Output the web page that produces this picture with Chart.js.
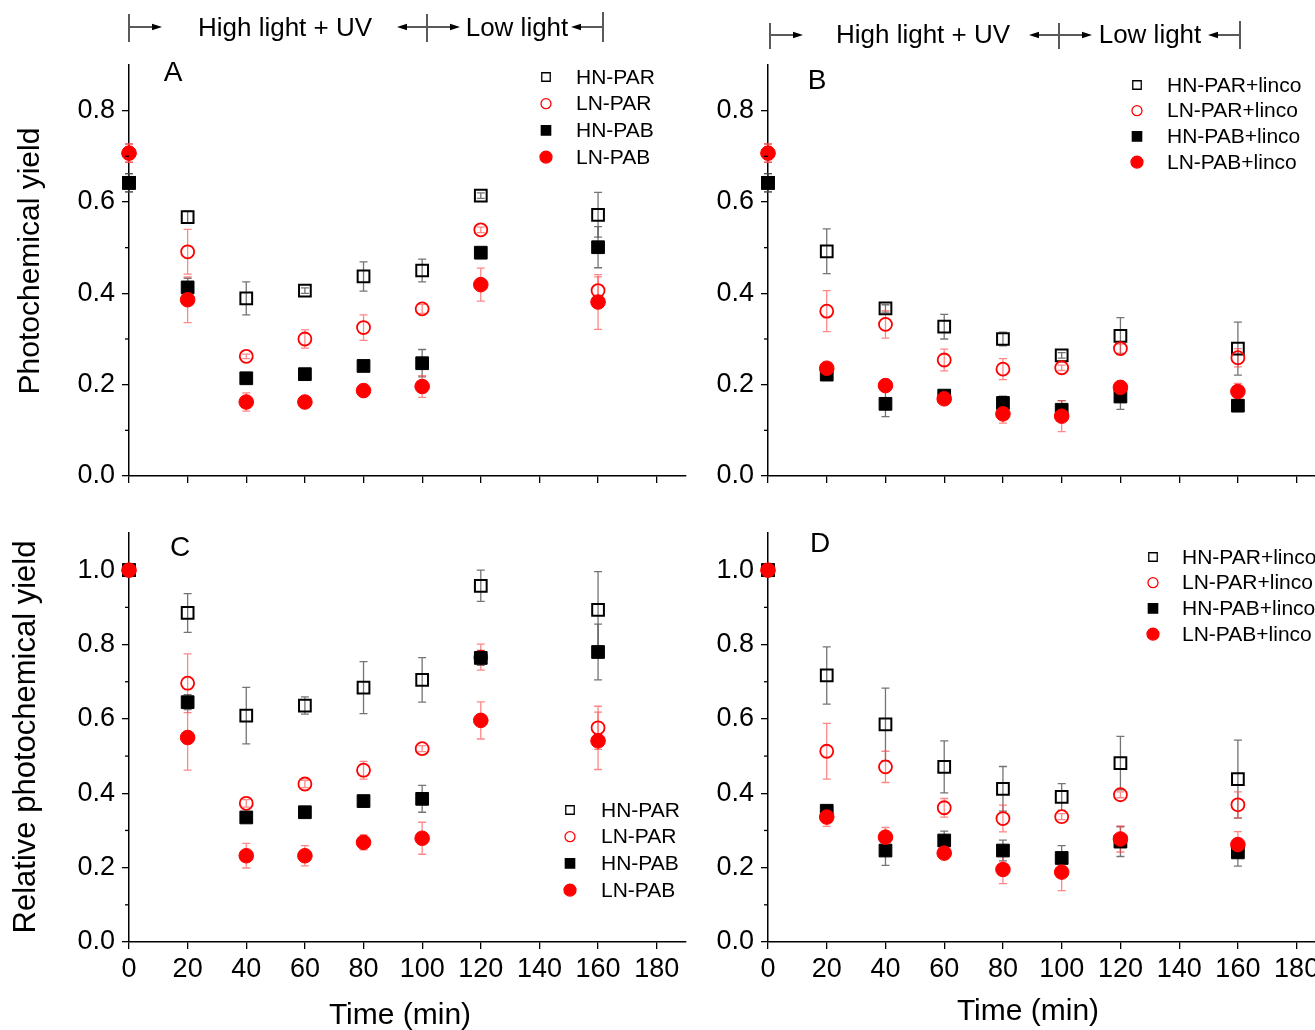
<!DOCTYPE html>
<html><head><meta charset="utf-8">
<script src="https://cdn.jsdelivr.net/npm/chart.js@4.4.1/dist/chart.umd.min.js"></script>
<style>
html,body{margin:0;padding:0;background:#fff;overflow:hidden;width:1315px;height:1030px;position:relative;}
canvas{position:absolute;}
</style></head><body>
<canvas id="cA" width="700" height="500" style="left:0px;top:0px"></canvas>
<canvas id="cB" width="640" height="500" style="left:700px;top:0px"></canvas>
<canvas id="cC" width="700" height="560" style="left:0px;top:490px"></canvas>
<canvas id="cD" width="640" height="560" style="left:700px;top:490px"></canvas>
<script>
// ---------- data ----------
const times = [0, 20, 40, 60, 80, 100, 120, 160];
const xTicks = [0, 20, 40, 60, 80, 100, 120, 140, 160, 180];
const yTicksTop = [0, 0.2, 0.4, 0.6, 0.8];
const yMinorTop = [0.1, 0.3, 0.5, 0.7];
const yTicksBottom = [0, 0.2, 0.4, 0.6, 0.8, 1.0];
const yMinorBottom = [0.1, 0.3, 0.5, 0.7, 0.9];
const namesPlain = ['HN-PAR', 'LN-PAR', 'HN-PAB', 'LN-PAB'];
const namesLinco = ['HN-PAR+linco', 'LN-PAR+linco', 'HN-PAB+linco', 'LN-PAB+linco'];

// Panel A - Photochemical yield
const A_HN_PAR = [0.642, 0.567, 0.389, 0.406, 0.437, 0.450, 0.614, 0.572];
const A_HN_PAR_err = [0.02, 0.013, 0.036, 0.006, 0.032, 0.025, 0.006, 0.049];
const A_LN_PAR = [0.707, 0.491, 0.262, 0.300, 0.325, 0.366, 0.539, 0.406];
const A_LN_PAR_err = [0.02, 0.049, 0.005, 0.02, 0.028, 0.01, 0.006, 0.03];
const A_HN_PAB = [0.642, 0.413, 0.214, 0.223, 0.241, 0.247, 0.489, 0.501];
const A_HN_PAB_err = [0.02, 0.02, 0.006, 0.008, 0.008, 0.03, 0.006, 0.045];
const A_LN_PAB = [0.707, 0.386, 0.162, 0.162, 0.187, 0.196, 0.419, 0.381];
const A_LN_PAB_err = [0.02, 0.05, 0.02, 0.006, 0.006, 0.024, 0.036, 0.06];

// Panel B - Photochemical yield, +linco
const B_HN_PAR = [0.642, 0.492, 0.367, 0.327, 0.300, 0.264, 0.307, 0.279];
const B_HN_PAR_err = [0.02, 0.049, 0.008, 0.027, 0.015, 0.006, 0.04, 0.058];
const B_LN_PAR = [0.707, 0.361, 0.332, 0.254, 0.234, 0.237, 0.279, 0.259];
const B_LN_PAR_err = [0.02, 0.045, 0.03, 0.024, 0.023, 0.006, 0.01, 0.02];
const B_HN_PAB = [0.642, 0.222, 0.158, 0.176, 0.160, 0.145, 0.174, 0.154];
const B_HN_PAB_err = [0.02, 0.006, 0.028, 0.006, 0.015, 0.02, 0.028, 0.012];
const B_LN_PAB = [0.707, 0.236, 0.198, 0.169, 0.136, 0.131, 0.194, 0.185];
const B_LN_PAB_err = [0.02, 0.008, 0.006, 0.006, 0.02, 0.034, 0.013, 0.018];

// Panel C - Relative photochemical yield
const C_HN_PAR = [1.0, 0.885, 0.609, 0.636, 0.684, 0.705, 0.958, 0.893];
const C_HN_PAR_err = [0, 0.052, 0.076, 0.023, 0.07, 0.06, 0.042, 0.103];
const C_LN_PAR = [1.0, 0.696, 0.373, 0.425, 0.462, 0.520, 0.766, 0.576];
const C_LN_PAR_err = [0, 0.079, 0.01, 0.01, 0.024, 0.008, 0.035, 0.058];
const C_HN_PAB = [1.0, 0.645, 0.335, 0.349, 0.379, 0.385, 0.764, 0.780];
const C_HN_PAB_err = [0, 0.02, 0.008, 0.008, 0.01, 0.036, 0.02, 0.075];
const C_LN_PAB = [1.0, 0.550, 0.232, 0.232, 0.268, 0.279, 0.596, 0.541];
const C_LN_PAB_err = [0, 0.088, 0.033, 0.027, 0.02, 0.043, 0.05, 0.077];

// Panel D - Relative photochemical yield, +linco
const D_HN_PAR = [1.0, 0.717, 0.585, 0.471, 0.412, 0.390, 0.481, 0.438];
const D_HN_PAR_err = [0, 0.077, 0.098, 0.07, 0.06, 0.036, 0.072, 0.105];
const D_LN_PAR = [1.0, 0.513, 0.471, 0.361, 0.332, 0.337, 0.396, 0.369];
const D_LN_PAR_err = [0, 0.075, 0.042, 0.025, 0.036, 0.008, 0.008, 0.035];
const D_HN_PAB = [1.0, 0.353, 0.246, 0.273, 0.246, 0.226, 0.270, 0.241];
const D_HN_PAB_err = [0, 0.01, 0.04, 0.025, 0.028, 0.033, 0.04, 0.037];
const D_LN_PAB = [1.0, 0.336, 0.282, 0.239, 0.195, 0.188, 0.277, 0.262];
const D_LN_PAB_err = [0, 0.025, 0.026, 0.008, 0.038, 0.05, 0.035, 0.035];

// ---------- styles ----------
const FONT = "'Liberation Sans', Arial, Helvetica, sans-serif";
const STYLES = [
  {pointStyle: 'rect', pointRadius: 8.3, pointBackgroundColor: 'rgba(0,0,0,0)', pointBorderColor: '#000', pointBorderWidth: 2, errColor: 'rgba(70,70,70,0.75)',
   leg: {pointStyle: 'rect', radius: 6, borderWidth: 1.7, fill: 'rgba(0,0,0,0)', stroke: '#000'}},
  {pointStyle: 'circle', pointRadius: 6.5, pointBackgroundColor: 'rgba(0,0,0,0)', pointBorderColor: '#ff0000', pointBorderWidth: 1.8, errColor: 'rgba(255,70,70,0.65)',
   leg: {pointStyle: 'circle', radius: 5, borderWidth: 1.7, fill: 'rgba(0,0,0,0)', stroke: '#ff0000'}},
  {pointStyle: 'rect', pointRadius: 9, pointBackgroundColor: '#000', pointBorderColor: '#000', pointBorderWidth: 1, errColor: 'rgba(70,70,70,0.75)',
   leg: {pointStyle: 'rect', radius: 6.6, borderWidth: 1, fill: '#000', stroke: '#000'}},
  {pointStyle: 'circle', pointRadius: 7.3, pointBackgroundColor: '#ff0000', pointBorderColor: '#ff0000', pointBorderWidth: 1, errColor: 'rgba(255,70,70,0.65)',
   leg: {pointStyle: 'circle', radius: 6, borderWidth: 1, fill: '#ff0000', stroke: '#ff0000'}}
];

const errorBars = {
  id: 'errorBars',
  beforeDatasetsDraw(chart) {
    const ctx = chart.ctx, xs = chart.scales.x, ys = chart.scales.y;
    ctx.save();
    chart.data.datasets.forEach(ds => {
      ctx.strokeStyle = ds.errColor;
      ctx.lineWidth = 1.3;
      ds.data.forEach((p, k) => {
        const e = ds.errors[k];
        if (!e) return;
        const px = xs.getPixelForValue(p.x);
        const y1 = ys.getPixelForValue(p.y - e), y2 = ys.getPixelForValue(p.y + e);
        ctx.beginPath();
        ctx.moveTo(px, y1); ctx.lineTo(px, y2);
        ctx.moveTo(px - 4, y1); ctx.lineTo(px + 4, y1);
        ctx.moveTo(px - 4, y2); ctx.lineTo(px + 4, y2);
        ctx.stroke();
      });
    });
    ctx.restore();
  }
};

function arrow(ctx, x1, x2, y) {
  const dir = x2 > x1 ? 1 : -1;
  ctx.beginPath(); ctx.moveTo(x1, y); ctx.lineTo(x2 - dir * 8, y); ctx.stroke();
  ctx.beginPath(); ctx.moveTo(x2, y); ctx.lineTo(x2 - dir * 10, y - 3.2); ctx.lineTo(x2 - dir * 10, y + 3.2); ctx.closePath(); ctx.fill();
}
function vbar(ctx, x, y1, y2) { ctx.beginPath(); ctx.moveTo(x, y1); ctx.lineTo(x, y2); ctx.stroke(); }

function makeDeco(d) {
  return {
    id: 'deco',
    afterDraw(chart) {
      const ctx = chart.ctx;
      ctx.save();
      ctx.translate(-d.offX, -d.offY);
      // minor ticks on y
      const ys = chart.scales.y;
      ctx.strokeStyle = '#000'; ctx.lineWidth = 1.3;
      d.minor.forEach(v => {
        const py = ys.getPixelForValue(v) + d.offY;
        ctx.beginPath(); ctx.moveTo(ys.right + d.offX - 4, py); ctx.lineTo(ys.right + d.offX, py); ctx.stroke();
      });
      ctx.fillStyle = '#000';
      ctx.textBaseline = 'middle';
      // panel letter
      ctx.font = '28px ' + FONT; ctx.textAlign = 'center';
      ctx.fillText(d.letter[0], d.letter[1], d.letter[2]);
      // legend
      ctx.font = '21px ' + FONT; ctx.textAlign = 'left';
      d.names.forEach((n, i) => {
        const st = STYLES[i].leg, y = d.leg.y0 + i * d.leg.dy;
        ctx.fillStyle = st.fill; ctx.strokeStyle = st.stroke;
        Chart.helpers.drawPoint(ctx, {pointStyle: st.pointStyle, radius: st.radius, borderWidth: st.borderWidth, rotation: 0}, d.leg.x, y);
        ctx.fillStyle = '#000';
        ctx.fillText(n, d.leg.tx, y + 1);
      });
      // y title
      if (d.ytitle) {
        ctx.save();
        ctx.font = d.ytitle[3] + 'px ' + FONT; ctx.textAlign = 'center';
        ctx.translate(d.ytitle[1], d.ytitle[2]); ctx.rotate(-Math.PI / 2);
        ctx.fillText(d.ytitle[0], 0, 0);
        ctx.restore();
      }
      // x title
      if (d.xtitle) {
        ctx.font = '30px ' + FONT; ctx.textAlign = 'center';
        ctx.fillText(d.xtitle[0], d.xtitle[1], d.xtitle[2]);
      }
      // annotation
      if (d.ann) {
        const a = d.ann;
        ctx.strokeStyle = '#000'; ctx.fillStyle = '#000'; ctx.lineWidth = 1.3;
        vbar(ctx, a.b[0], a.by[0], a.by[1]);
        vbar(ctx, a.b[1], a.by[0], a.by[1]);
        vbar(ctx, a.b[2], a.by[0] - 2, a.by[1]);
        arrow(ctx, a.b[0] + 1, a.b[0] + 33, a.ay);
        arrow(ctx, a.b[1] - 1, a.b[1] - 30, a.ay);
        arrow(ctx, a.b[1] + 1, a.b[1] + 33, a.ay);
        arrow(ctx, a.b[2] - 1, a.b[2] - 32, a.ay);
        ctx.font = '26px ' + FONT; ctx.textAlign = 'center';
        ctx.fillText('High light + UV', a.t1, a.ty);
        ctx.fillText('Low light', a.t2, a.ty);
      }
      ctx.restore();
    }
  };
}

function makeChart(id, vals, errs, names, cfg) {
  const datasets = vals.map((v, i) => Object.assign({
    label: names[i],
    data: times.map((t, k) => ({x: t, y: v[k]})),
    errors: errs[i],
    order: 4 - i,
    clip: false,
    showLine: false
  }, STYLES[i]));
  const tickFont = {family: FONT, size: 27};
  new Chart(document.getElementById(id), {
    type: 'scatter',
    data: {datasets},
    options: {
      responsive: false, animation: false, devicePixelRatio: 1,
      layout: {padding: {left: 0, top: cfg.top, right: 14, bottom: 0}},
      plugins: {legend: {display: false}, tooltip: {enabled: false}},
      scales: {
        x: {
          type: 'linear', min: 0, max: 190,
          afterBuildTicks: s => { s.ticks = xTicks.map(v => ({value: v})); },
          afterFit: s => { s.height = cfg.xH; },
          ticks: {callback: v => cfg.xLabels ? String(v) : '', font: tickFont, color: '#000', padding: 4, maxRotation: 0, autoSkip: false},
          grid: {drawOnChartArea: false, tickLength: 7, color: '#000', lineWidth: 1.3},
          border: {color: '#000', width: 1.6}
        },
        y: {
          type: 'linear', min: 0, max: cfg.ymax,
          afterBuildTicks: s => { s.ticks = cfg.yTicks.map(v => ({value: v})); },
          afterFit: s => { s.width = cfg.yW; },
          ticks: {callback: v => v.toFixed(1), font: tickFont, color: '#000', padding: 7},
          grid: {drawOnChartArea: false, tickLength: 7, color: '#000', lineWidth: 1.3},
          border: {color: '#000', width: 1.5}
        }
      }
    },
    plugins: [errorBars, makeDeco(cfg.deco)]
  });
}

makeChart('cA', [A_HN_PAR, A_LN_PAR, A_HN_PAB, A_LN_PAB], [A_HN_PAR_err, A_LN_PAR_err, A_HN_PAB_err, A_LN_PAB_err], namesPlain,
  {top: 65, xH: 24, yW: 129, ymax: 0.9, yTicks: yTicksTop, xLabels: false,
   deco: {offX: 0, offY: 0, minor: yMinorTop, letter: ['A', 173, 73], names: namesPlain, leg: {x: 546, tx: 576, y0: 77, dy: 26.7},
          ytitle: ['Photochemical yield', 31, 261, 30],
          ann: {b: [129, 427, 603], by: [14, 42], ay: 27, t1: 285, t2: 517, ty: 29}}});

makeChart('cB', [B_HN_PAR, B_LN_PAR, B_HN_PAB, B_LN_PAB], [B_HN_PAR_err, B_LN_PAR_err, B_HN_PAB_err, B_LN_PAB_err], namesLinco,
  {top: 65, xH: 24, yW: 68, ymax: 0.9, yTicks: yTicksTop, xLabels: false,
   deco: {offX: 700, offY: 0, minor: yMinorTop, letter: ['B', 817, 81], names: namesLinco, leg: {x: 1137, tx: 1167, y0: 85, dy: 25.7},
          ytitle: null,
          ann: {b: [770, 1059, 1240], by: [23, 49], ay: 35, t1: 923, t2: 1150, ty: 36}}});

makeChart('cC', [C_HN_PAR, C_LN_PAR, C_HN_PAB, C_LN_PAB], [C_HN_PAR_err, C_LN_PAR_err, C_HN_PAB_err, C_LN_PAB_err], namesPlain,
  {top: 43, xH: 108, yW: 129, ymax: 1.1, yTicks: yTicksBottom, xLabels: true,
   deco: {offX: 0, offY: 490, minor: yMinorBottom, letter: ['C', 180, 548], names: namesPlain, leg: {x: 570, tx: 601, y0: 810, dy: 26.7},
          ytitle: ['Relative photochemical yield', 26, 737, 31],
          xtitle: ['Time (min)', 400, 1016]}});

makeChart('cD', [D_HN_PAR, D_LN_PAR, D_HN_PAB, D_LN_PAB], [D_HN_PAR_err, D_LN_PAR_err, D_HN_PAB_err, D_LN_PAB_err], namesLinco,
  {top: 43, xH: 108, yW: 68, ymax: 1.1, yTicks: yTicksBottom, xLabels: true,
   deco: {offX: 700, offY: 490, minor: yMinorBottom, letter: ['D', 820, 544], names: namesLinco, leg: {x: 1153, tx: 1182, y0: 557, dy: 25.7},
          ytitle: null,
          xtitle: ['Time (min)', 1028, 1012]}});
</script>
</body></html>
